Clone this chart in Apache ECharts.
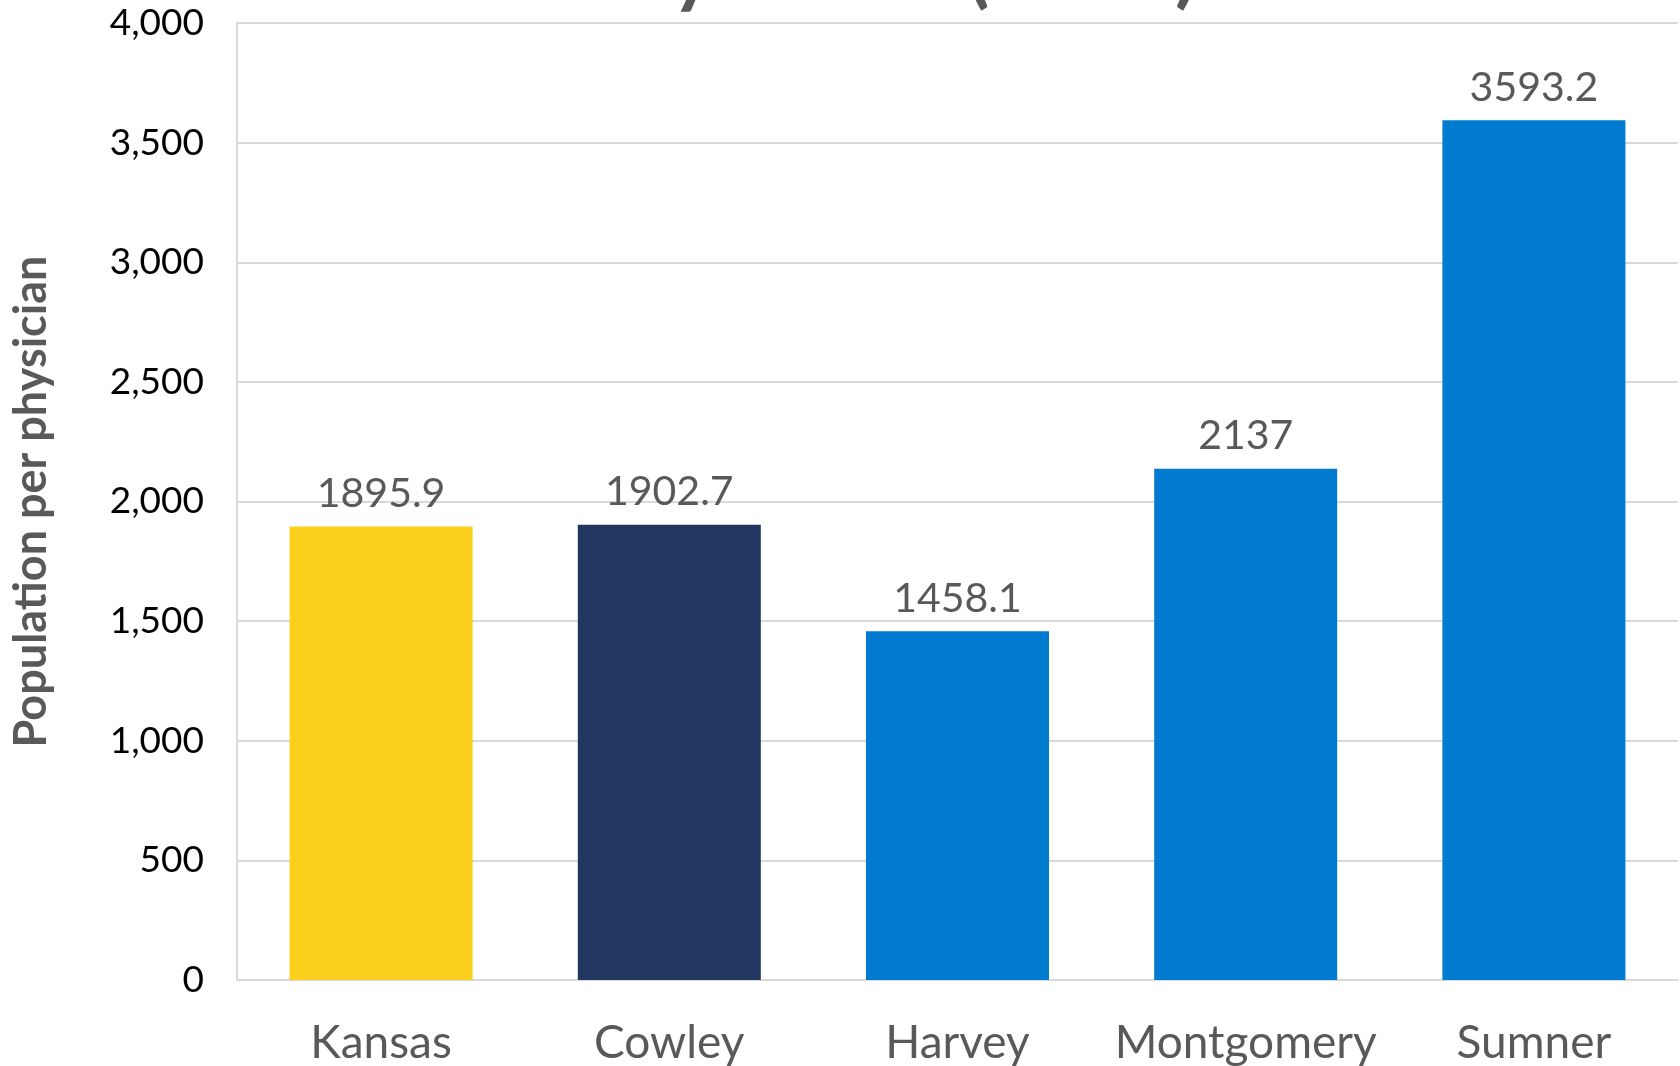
<!DOCTYPE html>
<html><head><meta charset="utf-8">
<script src="https://cdn.jsdelivr.net/npm/echarts@6/dist/echarts.min.js"></script>
<style>html,body{margin:0;padding:0;background:#fff}#c{width:1680px;height:1066px}</style>
</head><body><div id="c"></div>
<script>
var categories = ['Kansas', 'Cowley', 'Harvey', 'Montgomery', 'Sumner'];
var values = [1895.9, 1902.7, 1458.1, 2137, 3593.2];
var barColors = ['#FCD01D', '#21375F', '#007BD0', '#007BD0', '#007BD0'];
var yTicks = [0, 500, 1000, 1500, 2000, 2500, 3000, 3500, 4000];
var titleText = 'Physicians (2019)';
var yName = 'Population per physician';

var FONT = 'Lato';
var chart = echarts.init(document.getElementById('c'), null, {renderer: 'canvas'});
chart.setOption({
  animation: false,
  title: {
    text: titleText, left: 573, top: -73,
    textStyle: {fontFamily: FONT, fontWeight: 'bold', fontSize: 80, color: '#595959'}
  },
  grid: {left: 237, right: 2, top: 23, bottom: 86, containLabel: false},
  xAxis: {
    type: 'category', data: categories,
    axisLine: {lineStyle: {color: '#D9D9D9', width: 2}},
    axisTick: {show: false},
    axisLabel: {interval: 0, fontFamily: FONT, fontSize: 46, color: '#595959', margin: 40}
  },
  yAxis: {
    type: 'value', min: yTicks[0], max: yTicks[yTicks.length - 1], interval: 500,
    name: yName, nameLocation: 'middle', nameGap: 183,
    nameTextStyle: {fontFamily: FONT, fontWeight: 'bold', fontSize: 45, color: '#595959'},
    axisLine: {show: true, lineStyle: {color: '#D9D9D9', width: 2}},
    axisTick: {show: false},
    splitLine: {lineStyle: {color: '#D9D9D9', width: 2}},
    axisLabel: {fontFamily: FONT, fontSize: 37, color: '#000', margin: 33,
      formatter: function (v) { return v.toLocaleString('en-US'); }}
  },
  series: [{
    type: 'bar', barWidth: '63.5%',
    data: values.map(function (v, i) { return {value: v, itemStyle: {color: barColors[i]}}; }),
    label: {show: true, position: 'top', distance: 12, fontFamily: FONT, fontSize: 41, color: '#595959'}
  }]
});
</script></body></html>
